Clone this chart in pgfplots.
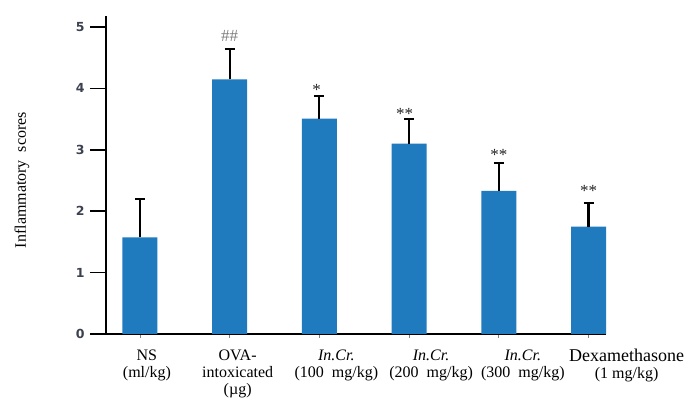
\documentclass[border=0pt]{standalone}
\usepackage{pgfplots}
\pgfplotsset{compat=1.18}
\usepackage{fontspec}
\setmainfont{Liberation Serif}
\newfontfamily\tickfont{DejaVu Sans}
\definecolor{barblue}{HTML}{1F7BBE}
\definecolor{tickgray}{HTML}{3C4150}
\newcommand{\xl}[2]{\makebox[0pt]{\hspace*{#1}\begin{tabular}{@{}c@{}}#2\end{tabular}}}
\pgfplotstableread{
x y e
0 1.575 0.625
1 4.148 0.49
2 3.51 0.37
3 3.10 0.40
4 2.33 0.46
5 1.75 0.39
}\bars
\begin{document}
\begin{tikzpicture}
\useasboundingbox (0pt,0pt) rectangle (689pt,401pt);
\begin{axis}[
  at={(106pt,67pt)}, anchor=south west,
  scale only axis, width=500pt, height=318pt,
  xmin=-0.378, xmax=5.194, ymin=0, ymax=5.18,
  axis x line*=bottom, axis y line*=left,
  axis line style={line width=1.6pt, black},
  xtick={0,...,5}, ytick={0,...,5},
  minor xtick={0,...,5},
  tick align=outside,
  major tick length=16pt, minor tick length=4pt,
  y tick style={line width=1.6pt, black},
  x tick style={draw=none},
  minor x tick style={draw=gray, line width=0.8pt},
  /pgf/number format/assume math mode=true,
  yticklabel style={font=\tickfont\bfseries\fontsize{12.5}{14}\selectfont, text=tickgray, xshift=-2pt},
  xticklabel style={font=\fontsize{16}{17}\selectfont, anchor=north, yshift=5pt},
  xticklabels={
    {\xl{14pt}{NS\\(ml/kg)}},
    {\xl{16pt}{OVA-\\intoxicated\\(\textmu g)}},
    {\xl{34pt}{\textit{In.Cr.}\\(100\ \ mg/kg)}},
    {\xl{44pt}{\textit{In.Cr.}\\(200\ \ mg/kg)}},
    {\xl{48pt}{\textit{In.Cr.}\\(300\ \ mg/kg)}},
    {\xl{76pt}{\fontsize{18}{17}\selectfont Dexamethasone\\(1 mg/kg)}}
  },
  ylabel={Inflammatory\hspace{0.5em}scores},
  ylabel style={at={(axis description cs:-0.168,0.484)}, anchor=center, font=\fontsize{16}{19}\selectfont},
  clip=false,
]
\addplot[ybar, bar width=35pt, fill=barblue, draw=none,
  error bars/.cd, y dir=plus, y explicit,
  error bar style={line width=2.2pt, black},
  error mark options={rotate=90, line width=2.2pt, mark size=5pt, black}]
  table[x=x, y=y, y error=e] {\bars};
\addplot[draw=none, mark=none, nodes near coords, point meta=explicit symbolic,
  nodes near coords style={anchor=center, font=\fontsize{17}{17}\selectfont, text=black!85}]
  coordinates {(1,4.85) [\textcolor{gray}{\#\#}] (1.97,3.97) [*] (2.95,3.58) [**] (4.0,2.91) [**] (5.0,2.33) [**]};
\end{axis}
\end{tikzpicture}
\end{document}
